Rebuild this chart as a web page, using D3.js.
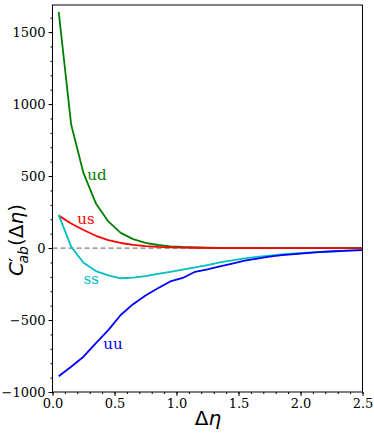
<!DOCTYPE html>
<html>
<head>
<meta charset="utf-8">
<script src="https://cdn.jsdelivr.net/npm/d3@7"></script>
<style>
  html, body { margin: 0; padding: 0; background: #fff; }
  svg { display: block; }
</style>
</head>
<body>
<svg id="chart" width="374" height="436"></svg>
<script>
// ── Data ─────────────────────────────────────────────
const deta = [0.05, 0.15, 0.25, 0.35, 0.45, 0.55, 0.65, 0.75, 0.85, 0.95,
              1.05, 1.15, 1.25, 1.35, 1.45, 1.55, 1.65, 1.75, 1.85, 1.95,
              2.05, 2.15, 2.25, 2.35, 2.45, 2.5];
const ud = [1640, 860, 520, 310, 185, 105, 62, 36, 21, 12,
            7, 4, 2, 1, 0, 0, 0, 0, 0, 0, 0, 0, 0, 0, 0, 0];
const us = [225, 170, 125, 85, 55, 35, 22, 13, 8, 5,
            3, 2, 1, 0, 0, 0, 0, 0, 0, 0, 0, 0, 0, 0, 0, 0];
const ss = [230, 10, -102, -160, -190, -210, -205, -195, -180, -165,
            -150, -135, -118, -100, -85, -72, -62, -53, -45, -38,
            -32, -27, -22, -18, -15, -14];
const uu = [-890, -825, -755, -660, -570, -465, -390, -330, -280, -232,
            -208, -165, -148, -128, -108, -88, -74, -60, -50, -42,
            -35, -29, -24, -20, -16, -15];

const seriesNames = ['ud', 'us', 'ss', 'uu'];
const seriesVals  = { ud, us, ss, uu };
const seriesColor = { ud: '#008000', us: '#ff0000', ss: '#00bfbf', uu: '#0000ff' };
// label anchor (data coords)
const labelPos = { ud: [0.28, 470], us: [0.2, 165], ss: [0.25, -250], uu: [0.41, -700] };

const xTicks = [0, 0.5, 1.0, 1.5, 2.0, 2.5];
const yTicks = [-1000, -500, 0, 500, 1000, 1500];

// ── Layout ───────────────────────────────────────────
const M = { left: 52.5, top: 5, right: 362.5, bottom: 392 };
const svg = d3.select('#chart');

const x = d3.scaleLinear().domain([0, 2.5]).range([M.left, M.right]);
const y = d3.scaleLinear().domain([-1000, 1688]).range([M.bottom, M.top]);

const SERIF = "'DejaVu Serif', serif";
const SANS  = "'DejaVu Sans', sans-serif";

// zero line
svg.append('line')
    .attr('x1', M.left).attr('x2', M.right)
    .attr('y1', y(0)).attr('y2', y(0))
    .attr('stroke', '#808080')
    .attr('stroke-width', 1.2)
    .attr('stroke-dasharray', '5,3');

// lines
const line = d3.line()
    .x((d, i) => x(deta[i]))
    .y(d => y(d));

seriesNames.forEach(name => {
    svg.append('path')
        .datum(seriesVals[name])
        .attr('fill', 'none')
        .attr('stroke', seriesColor[name])
        .attr('stroke-width', 1.8)
        .attr('stroke-linejoin', 'round')
        .attr('d', line);

    svg.append('text')
        .attr('x', x(labelPos[name][0]))
        .attr('y', y(labelPos[name][1]))
        .attr('font-family', SERIF)
        .attr('font-size', '15px')
        .attr('fill', seriesColor[name])
        .text(name);
});

// frame
svg.append('rect')
    .attr('x', M.left).attr('y', M.top)
    .attr('width', M.right - M.left).attr('height', M.bottom - M.top)
    .attr('fill', 'none')
    .attr('stroke', '#000')
    .attr('stroke-width', 1);

// ── Axes ─────────────────────────────────────────────
const xAxis = svg.append('g')
    .attr('transform', `translate(0,${M.bottom})`)
    .call(d3.axisBottom(x).tickValues(xTicks).tickFormat(d3.format('.1f')).tickSize(4).tickPadding(3));
svg.append('g')
    .attr('transform', `translate(0,${M.bottom})`)
    .call(d3.axisBottom(x).tickValues(d3.range(0, 2.51, 0.1)).tickFormat('').tickSize(2))
    .call(g => g.select('.domain').remove());

const yAxis = svg.append('g')
    .attr('transform', `translate(${M.left},0)`)
    .call(d3.axisLeft(y).tickValues(yTicks).tickFormat(d3.format('d')).tickSize(4).tickPadding(3));
svg.append('g')
    .attr('transform', `translate(${M.left},0)`)
    .call(d3.axisLeft(y).tickValues(d3.range(-1000, 1650, 100)).tickFormat('').tickSize(2))
    .call(g => g.select('.domain').remove());

[xAxis, yAxis].forEach(a => {
    a.select('.domain').remove();
    a.selectAll('text')
        .attr('font-family', SERIF)
        .attr('font-size', '13px')
        .attr('fill', '#000');
});

// axis labels
svg.append('text')
    .attr('x', 208).attr('y', 425)
    .attr('text-anchor', 'middle')
    .attr('font-family', SANS)
    .attr('font-size', '20px')
    .call(t => {
        t.append('tspan').text('Δ');
        t.append('tspan').attr('font-style', 'italic').text('η');
    });

const yl = svg.append('text')
    .attr('transform', 'translate(23,240) rotate(-90)')
    .attr('text-anchor', 'middle')
    .attr('font-family', SANS)
    .attr('font-size', '20px');
yl.append('tspan').attr('font-style', 'italic').text('C');
yl.append('tspan').attr('dx', 0).text('′');
yl.append('tspan').attr('font-style', 'italic').attr('font-size', '14px').attr('dx', -6).attr('dy', 5).text('ab');
yl.append('tspan').attr('dy', -5).text('(Δ');
yl.append('tspan').attr('font-style', 'italic').text('η');
yl.append('tspan').text(')');
</script>
</body>
</html>
